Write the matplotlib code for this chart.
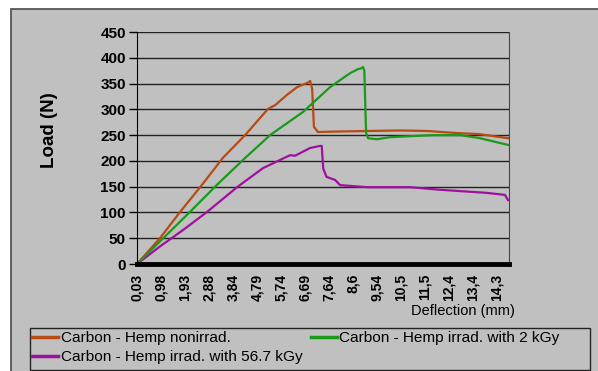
import matplotlib.pyplot as plt
from matplotlib.patches import Rectangle

plt.rcParams['font.family'] = ['Liberation Sans', 'DejaVu Sans']

# deflection (mm) / load (N)
nonirr_x = [0.03, 0.94, 1.74, 2.60, 3.44, 4.32, 5.23, 5.51, 5.98, 6.38, 6.82, 6.90,
            6.98, 7.05, 7.21, 8.0, 9.16, 10.5, 11.54, 12.73, 13.6, 14.75]
nonirr_y = [0, 50, 101, 153, 206, 250, 301, 308, 328, 343, 352, 355,
            340, 266, 256, 257, 258, 259, 258, 254, 252, 244]

irr2_x = [0.03, 2.13, 3.19, 4.24, 5.31, 6.62, 7.69, 8.48, 8.80, 8.95, 9.0, 9.05,
          9.12, 9.2, 9.55, 10.07, 11.78, 12.85, 13.64, 14.75]
irr2_y = [0, 101, 153, 202, 250, 295, 343, 370, 378, 380, 382, 375,
          254, 244, 242, 246, 250, 250, 244, 231]

irr56_x = [0.03, 0.94, 1.86, 2.81, 4.0, 5.03, 6.1, 6.3, 6.9, 7.29, 7.36, 7.42,
           7.55, 7.89, 8.09, 9.16, 10.86, 12.05, 13.9, 14.63, 14.75]
irr56_y = [0, 34, 66, 101, 149, 186, 211, 210, 225, 229, 229, 185,
           169, 163, 153, 149, 149, 144, 138, 134, 124]

xtick_labels = ["0,03", "0,98", "1,93", "2,88", "3,84", "4,79", "5,74", "6,69",
                "7,64", "8,6", "9,54", "10,5", "11,5", "12,4", "13,4", "14,3"]
yticks = [0, 50, 100, 150, 200, 250, 300, 350, 400, 450]

W, H = 598, 371
fig = plt.figure(figsize=(W / 100, H / 100), dpi=100)
fig.patch.set_facecolor("white")

bg = "#c0c0c0"
fig.patches.append(Rectangle((11 / W, -0.05), 1.1, 1 - 9 / H + 0.05,
                             transform=fig.transFigure, facecolor=bg,
                             edgecolor="#555555", linewidth=1.3, zorder=-10))

ax = fig.add_axes([137 / W, 1 - 264 / H, 372 / W, 232 / H])
ax.set_facecolor(bg)

ax.plot(nonirr_x, nonirr_y, color="#b84a12", lw=1.6, label="Carbon - Hemp nonirrad.")
ax.plot(irr56_x, irr56_y, color="#a010a0", lw=1.6, label="Carbon - Hemp irrad. with 56.7 kGy")
ax.plot(irr2_x, irr2_y, color="#1a9a1a", lw=1.6, label="Carbon - Hemp irrad. with 2 kGy")

step = (14.3 - 0.03) / 15
xticks = [0.03 + i * step for i in range(len(xtick_labels))]
ax.set_xlim(0.03, 14.79)
ax.set_ylim(0, 450)
ax.set_xticks(xticks)
ax.set_xticklabels(xtick_labels, rotation=90, fontsize=10, fontweight="bold")
ax.set_yticks(yticks)
ax.set_yticklabels([str(v) for v in yticks], fontsize=11, fontweight="bold")
ax.tick_params(axis="x", length=0, pad=7)
ax.tick_params(axis="y", length=6, width=1, pad=2, direction="out")

ax.grid(axis="y", color="#222222", lw=1)
ax.set_axisbelow(True)
ax.spines["bottom"].set_linewidth(3.5)
ax.spines["bottom"].set_color("black")
ax.spines["left"].set_color("black")
ax.spines["right"].set_color("#444444")
ax.spines["top"].set_visible(False)

fig.text(50 / W, 1 - 130 / H, "Load (N)", rotation=90, ha="center", va="center",
         fontsize=13.5, fontweight="bold")
fig.text(515 / W, 1 - 311 / H, "Deflection (mm)", ha="right", va="center", fontsize=10.5)

fig.patches.append(Rectangle((30 / W, 1 - 370 / H), 560 / W, 42 / H,
                             transform=fig.transFigure, facecolor=bg,
                             edgecolor="#222222", linewidth=1, zorder=2))
leg = fig.legend(loc="upper left", bbox_to_anchor=(32 / W, 1 - 331 / H), ncol=2,
                 frameon=False, fontsize=11.1, handlelength=1.7, handletextpad=0.15,
                 columnspacing=0.55, labelspacing=0.32, borderpad=0, borderaxespad=0)
leg.set_zorder(5)
for line in leg.get_lines():
    line.set_linewidth(2.5)

fig.savefig("out.png", dpi=100, facecolor=fig.get_facecolor())
